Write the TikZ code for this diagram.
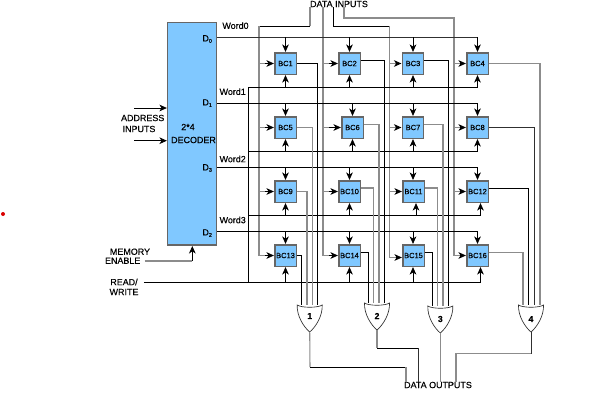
\documentclass[tikz,border=0pt]{standalone}
\usepackage{fontspec}
\setmainfont[FakeBold=0.35]{Liberation Sans}
\usetikzlibrary{arrows.meta,calc}
\definecolor{bcblue}{HTML}{80C8FF}
\definecolor{gline}{HTML}{8C8C8C}
\definecolor{dline}{HTML}{303030}
\newcommand{\dsub}[1]{\textsubscript{\fontsize{4}{4}\selectfont #1}}
\tikzset{
  wire/.style={draw=black,line width=.6pt},
  gwire/.style={draw=gline,line width=.8pt},
  dwire/.style={draw=dline,line width=.6pt},
  arr/.style={-{Stealth[length=5.6pt,width=5pt,inset=1.6pt]},shorten >=.4pt},
  bcbox/.style={draw=gray!80!black,line width=.8pt,fill=bcblue,minimum width=15.8pt,minimum height=15.8pt,inner sep=0pt,font=\fontsize{5.6}{6}\selectfont},
  lab/.style={inner sep=0pt,font=\fontsize{6.7}{7}\selectfont,text=black},
  gatenum/.style={inner sep=0pt,font=\fontsize{6.5}{7}\selectfont\bfseries},
  orgate/.style={draw=dline,line width=.5pt,fill=white}
}
\begin{document}
\begin{tikzpicture}[x=.75pt,y=-.75pt]
\useasboundingbox (0,0) rectangle (591,407);
% decoder
\node[draw=gray!80!black,line width=.8pt,fill=bcblue,minimum width=36.4pt,minimum height=167.2pt,inner sep=0pt] (dec) at (192.2,133.5) {};
\node[lab] (dl1) at (188,127) {2*4};
\node[lab] (dl2) at (193.5,140) {DECODER};
\node[lab] (d0) at (207.5,39) {D\dsub{0}};
\node[lab] (d1) at (207.5,103) {D\dsub{1}};
\node[lab] (d3) at (207.5,168) {D\dsub{3}};
\node[lab] (d2) at (207.5,233) {D\dsub{2}};
\node[lab] (w0) at (235.5,25.7) {Word0};
\node[lab] (w1) at (232.7,91.7) {Word1};
\node[lab] (w2) at (232.7,159) {Word2};
\node[lab] (w3) at (232.7,220) {Word3};
\node[lab] (addr1) at (142.7,118) {ADDRESS};
\node[lab] (addr2) at (139,129) {INPUTS};
\node[lab] (mem1) at (130,251.7) {MEMORY};
\node[lab] (mem2) at (122.7,260.7) {ENABLE};
\node[lab] (rw1) at (124,282) {READ/};
\node[lab] (rw2) at (124,292) {WRITE};
\node[lab] (din) at (339,4) {DATA INPUTS};
\node[lab] (dout) at (438,385) {DATA OUTPUTS};
% cells
\foreach \n/\cx/\cy in {1/285.5/63.5,2/349.5/63.5,3/413/63.5,4/477.5/63.5,
  5/285.5/127.5,6/352.5/127.5,7/413/127.5,8/477.5/127.5,
  9/285.5/191.5,10/349.5/191.5,11/413.5/191.5,12/477.5/191.5,
  13/285.5/255.5,14/349.5/255.5,15/413.5/255.5,16/477.5/255.5}
  \node[bcbox] (b\n) at (\cx,\cy) {BC\n};
% gate tips
\foreach \n/\cx/\top in {1/309.7/305,2/377/303,3/440.3/306,4/531/305}
  \coordinate (t\n) at (\cx,\top+27);
% data input buses
\coordinate (inA) at (310,26);
\coordinate (inC) at (333,26);
\coordinate (inD) at (344,18);
\draw[gwire] (din.south -| inA) -- (inA);
\draw[wire] (inA) -- (259,26);
\draw[gwire] (259,26) -- (259,255.5);
\draw[gwire] (din.south -| 323,0) -- (323,255.5);
\draw[wire] (din.south -| inC) -- (inC) -- (389.5,26);
\draw[gwire] (389.5,26) -- (389.5,257.5);
\draw[gwire] (din.south -| inD) -- (inD) -- (454,18) -- (454,255.5);
\foreach \n/\x/\y in {1/259/63.5,2/323/63.5,3/389.5/63.5,4/454/63.5,
  5/259/127.5,6/323/127.5,7/389.5/127.5,8/454/127.5,
  9/259/191.5,10/323/191.5,11/389.5/191.5,12/454/191.5,
  13/259/255.5,14/323/255.5,15/389.5/257.5,16/454/255.5}{
  \draw[gwire] (\x,\y) -- ($(\x,\y)+(6,0)$);
  \draw[wire,arr] ($(\x,\y)+(6,0)$) -- (b\n.west |- \x,\y);
}
% word select lines
\draw[dwire] (dec.east |- 0,37) -- (477.5,37);
\draw[wire] (dec.east |- 0,103.5) -- (477.5,103.5);
\draw[wire] (dec.east |- 0,167) -- (477.5,167);
\draw[wire] (dec.east |- 0,231) -- (477.5,231);
\foreach \n/\x/\y in {1/285.5/37,2/349.5/37,3/413/37,4/477.5/37,
  5/285.5/103.5,6/352.5/103.5,7/413/103.5,8/477.5/103.5,
  9/285.5/167,10/349.5/167,11/413/167,12/477.5/167,
  13/285.5/231,14/349.5/231,15/413/231,16/477.5/231}
  \draw[wire,arr] (\x,\y) -- (b\n.north -| \x,0);
% read/write lines
\draw[wire] ($(rw1.east |- 0,282)+(6,0)$) -- (480.5,282);
\draw[wire] (248,282) -- (248,87);
\draw[wire] (248,87) -- (477.5,87);
\draw[wire] (248,151) -- (477.5,151);
\draw[wire] (248,215) -- (480.5,215);
\foreach \n/\x/\y in {1/285.5/87,2/349.5/87,3/413/87,4/477.5/87,
  5/285.5/151,6/352.5/151,7/413/151,8/477.5/151,
  9/285.5/215,10/349.5/215,11/416/215,12/480.5/215,
  13/285.5/282,14/349.5/282,15/413/282,16/480.5/282}
  \draw[wire,arr] (\x,\y) -- (b\n.south -| \x,0);
% cell outputs
\foreach \n/\sty/\x/\y/\e in {
  1/wire/317.5/63.5/305,5/gwire/312.5/127.5/305,9/gwire/307/191.5/305,13/wire/301.5/255.5/305,
  2/wire/384.3/60/303,6/gwire/379/124.5/303,10/gwire/373.5/188/303,14/wire/368.3/252.7/303,
  3/wire/448/60/306,7/gwire/443/124.5/306,11/gwire/437.7/188/306,15/wire/432.5/252.7/306,
  4/gwire/540/63.5/305,8/dwire/534/127/305,12/wire/528.5/188/305,16/gwire/523/252.7/305}
  \draw[\sty] (b\n.east |- 0,\y) -- (\x,\y) -- (\x,\e);
% gates
\foreach \n/\cx/\top/\nly in {1/309.7/305/11,2/377/303/13,3/440.3/306/13,4/531/305/14}{
  \begin{scope}[shift={(\cx,\top)}]
    \draw[orgate] (-12.5,0) .. controls (-8,3) and (8,3) .. (12.5,0)
       .. controls (13,11) and (6,22) .. (0,27)
       .. controls (-6,22) and (-13,11) .. cycle;
    \node[gatenum] (gn\n) at (0,\nly) {\n};
  \end{scope}
}
% data outputs
\draw[gwire] (t1) -- (310,367);
\draw[wire] (310,367) -- (406,367);
\draw[gwire] (406,367) -- (dout.north -| 406,0);
\draw[gwire] (t2) -- (377,348);
\draw[wire] (377,348) -- (418,348);
\draw[dwire] (418,348) -- (dout.north -| 418,0);
\draw[gwire] (t3) -- (dout.north -| t3);
\draw[dwire] (t4) -- (531,353.7);
\draw[gwire] (531,353.7) -- (456,353.7) -- (dout.north -| 456,0);
% address, enable
\draw[wire,arr] (134,108) -- (dec.west |- 0,108);
\draw[wire,arr] (134,140.7) -- (dec.west |- 0,140.7);
\draw[gwire] ($(mem2.east |- 0,261)+(4,0)$) -- (192.3,261);
\draw[wire,arr] (192.3,261) -- (dec.south -| 192.3,0);
% stray dot
\node[circle,fill=red!85!black,minimum size=3pt,inner sep=0pt] (dot) at (3,214) {};
\end{tikzpicture}
\end{document}
